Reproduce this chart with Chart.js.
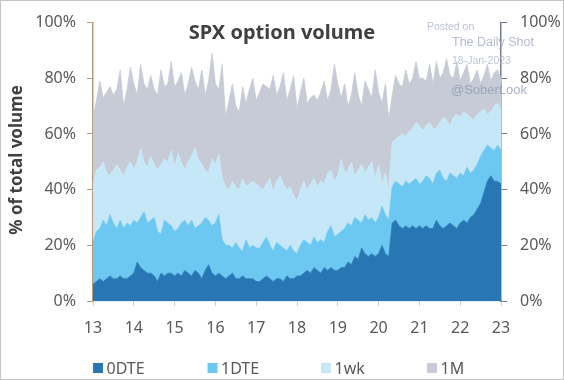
<!DOCTYPE html>
<html>
<head>
<meta charset="utf-8">
<script src="https://cdn.jsdelivr.net/npm/chart.js@4.4.1/dist/chart.umd.min.js"></script>
<style>
html,body{margin:0;padding:0;background:#fff;}
#wrap{width:564px;height:380px;position:relative;}
canvas{display:block;}
</style>
</head>
<body>
<div id="wrap"><canvas id="c" width="564" height="380"></canvas></div>
<script>
// ---- Data (cumulative shares, % of total volume) ----
const seriesNames = ['0DTE', '1DTE', '1wk', '1M'];

// monthly categories Jan 2013 .. Jan 2023
const months = [];
for (let y = 2013; y <= 2023; y++) {
  for (let m = 1; m <= 12; m++) {
    if (y === 2023 && m > 1) break;
    months.push(y + '-' + String(m).padStart(2, '0'));
  }
}

const yTickValues = [0, 20, 40, 60, 80, 100];

// 0DTE share
const dte0 = [
  6, 7, 8, 7, 8, 9, 8, 8, 9, 8, 8, 9,
  10, 14, 12, 11, 10, 10, 9, 7, 10, 9, 10, 10,
  9, 10, 9, 11, 10, 9, 11, 10, 8, 11, 13, 10,
  9, 10, 9, 8, 9, 10, 8, 8, 9, 8, 8, 8,
  7, 7, 8, 9, 8, 7, 8, 8, 7, 9, 8, 8,
  9, 9, 10, 11, 10, 12, 11, 10, 12, 11, 12, 11,
  11, 12, 12, 14, 13, 16, 15, 19, 17, 16, 17, 16,
  17, 20, 17, 16, 28, 29, 27, 26, 27, 26, 27, 26,
  27, 26, 27, 26, 26, 29, 27, 26, 27, 28, 27, 26,
  28, 29, 28, 30, 31, 33, 35, 39, 43, 45, 43, 43,
  42
];

// 0DTE + 1DTE (top of 1DTE band)
const upTo1DTE = [
  21, 25, 26, 29, 27, 31, 28, 26, 29, 26, 28, 27,
  29, 28, 30, 32, 28, 29, 30, 25, 24, 29, 28, 27,
  25, 26, 28, 29, 27, 29, 26, 27, 28, 30, 29, 27,
  28, 31, 22, 20, 20, 19, 21, 19, 18, 22, 19, 20,
  19, 19, 21, 23, 20, 18, 21, 20, 19, 18, 20, 18,
  17, 20, 22, 21, 20, 23, 21, 22, 21, 25, 27, 23,
  24, 25, 26, 28, 27, 30, 29, 28, 31, 29, 30, 28,
  30, 34, 31, 29, 41, 43, 42, 41, 43, 42, 43, 44,
  42, 43, 45, 44, 42, 46, 47, 44, 43, 46, 45, 44,
  46, 45, 48, 46, 47, 49, 52, 54, 56, 55, 54, 56,
  54
];

// up to 1wk (top of 1wk band)
const upTo1wk = [
  42, 47, 48, 50, 46, 45, 47, 49, 47, 45, 48, 50,
  47, 50, 55, 50, 48, 52, 49, 47, 49, 51, 50, 54,
  48, 53, 50, 47, 50, 52, 55, 51, 49, 47, 46, 51,
  49, 53, 44, 41, 40, 43, 41, 40, 44, 41, 42, 43,
  42, 41, 40, 42, 44, 39, 43, 45, 42, 40, 41, 38,
  36, 40, 43, 40, 42, 44, 41, 43, 42, 46, 47, 43,
  45, 51, 46, 47, 50, 45, 47, 49, 46, 48, 50, 44,
  49, 42, 46, 40, 57, 58, 59, 60, 59, 61, 62, 64,
  63, 61, 63, 64, 62, 62, 64, 66, 65, 63, 66, 67,
  66, 68, 67, 66, 65, 67, 68, 69, 67, 68, 70, 71,
  69
];

// up to 1M (top of 1M band)
const upTo1M = [
  66, 72, 79, 73, 75, 77, 74, 76, 83, 70, 76, 84,
  78, 74, 85, 78, 76, 81, 76, 74, 83, 77, 78, 86,
  77, 79, 82, 74, 78, 84, 79, 76, 83, 74, 79, 89,
  78, 76, 85, 66, 72, 78, 70, 68, 77, 71, 76, 80,
  72, 75, 78, 77, 76, 81, 74, 77, 82, 72, 76, 81,
  69, 75, 80, 71, 73, 74, 72, 75, 79, 72, 76, 85,
  78, 73, 78, 70, 74, 82, 74, 70, 79, 76, 73, 83,
  75, 71, 78, 65, 74, 81, 78, 77, 83, 78, 80, 86,
  80, 80, 79, 85, 78, 86, 80, 82, 87, 81, 80, 86,
  79, 82, 85, 78, 80, 83, 78, 81, 85, 79, 82, 83,
  80
];

const seriesColors = ['#2877b4', '#6cc8f0', '#c6e7f8', '#c6cbd5'];

const series = [dte0, upTo1DTE, upTo1wk, upTo1M];

const TXT = '#595959';
const FONT = "'Noto Sans', 'DejaVu Sans', sans-serif";

const decor = {
  id: 'decor',
  afterDraw(chart) {
    const ctx = chart.ctx;
    ctx.save();
    // outer border
    ctx.strokeStyle = '#c4c4c4';
    ctx.lineWidth = 1;
    ctx.strokeRect(0.5, 0.5, 563, 379);

    // title
    ctx.fillStyle = '#404040';
    ctx.font = "bold 20px " + FONT;
    ctx.textAlign = 'center';
    ctx.textBaseline = 'middle';
    ctx.fillText('SPX option volume', 282, 33);

    // y axis title
    ctx.save();
    ctx.translate(17, 160);
    ctx.rotate(-Math.PI / 2);
    ctx.font = "bold 17px " + FONT;
    ctx.fillStyle = '#404040';
    ctx.fillText('% of total volume', 0, 0);
    ctx.restore();

    // watermark
    ctx.textAlign = 'left';
    ctx.font = "10.5px 'Liberation Sans', Arial, sans-serif";
    ctx.fillStyle = 'rgba(170,180,200,0.8)';
    ctx.fillText('Posted on', 427, 27);
    ctx.font = "12.5px 'Liberation Sans', Arial, sans-serif";
    ctx.fillStyle = 'rgba(160,170,192,0.8)';
    ctx.fillText('The Daily Shot', 452, 43);
    ctx.font = "10.5px 'Liberation Sans', Arial, sans-serif";
    ctx.fillStyle = 'rgba(160,170,192,0.7)';
    ctx.fillText('18-Jan-2023', 452, 61);
    ctx.font = "13px 'Liberation Sans', Arial, sans-serif";
    ctx.fillStyle = 'rgba(140,152,180,0.75)';
    ctx.fillText('@SoberLook', 451, 90);

    // legend
    const lx = [93, 207.5, 321, 427];
    ctx.font = "16px " + FONT;
    ctx.textBaseline = 'middle';
    chart.data.datasets.forEach((ds, k) => {
      ctx.fillStyle = ds.backgroundColor;
      ctx.fillRect(lx[k], 363, 10, 10);
      ctx.fillStyle = TXT;
      ctx.fillText(ds.label, lx[k] + 13.5, 369);
    });
    ctx.restore();
  }
};

new Chart(document.getElementById('c'), {
  type: 'line',
  data: {
    labels: months,
    datasets: series.map((d, k) => ({
      label: seriesNames[k],
      data: d,
      backgroundColor: seriesColors[k],
      borderColor: seriesColors[k],
      borderWidth: 0.8,
      pointRadius: 0,
      tension: 0,
      fill: k === 0 ? 'origin' : '-1'
    }))
  },
  options: {
    responsive: false,
    animation: false,
    events: [],
    layout: { padding: { top: 18, left: 0, right: 0, bottom: 0 } },
    plugins: { legend: { display: false }, tooltip: { enabled: false }, title: { display: false } },
    scales: {
      x: {
        type: 'category',
        offset: false,
        grid: {
          drawOnChartArea: false,
          drawTicks: true,
          tickLength: 5,
          color: (c) => (months[c.index] && months[c.index].endsWith('-01')) ? '#cfcfcf' : 'rgba(0,0,0,0)'
        },
        border: { display: true, color: '#86bde2', width: 1.2 },
        ticks: {
          autoSkip: false,
          maxRotation: 0,
          minRotation: 0,
          padding: 13,
          color: TXT,
          font: { family: FONT, size: 16 },
          callback: (v, i) => months[i].endsWith('-01') ? months[i].slice(2, 4) : ''
        },
        afterFit: (s) => { s.height = 79; }
      },
      y: {
        position: 'left',
        min: 0, max: 100,
        afterBuildTicks: (s) => { s.ticks = yTickValues.map(v => ({ value: v })); },
        ticks: { padding: 11, color: TXT, font: { family: FONT, size: 16 }, callback: (v) => v + '%' },
        grid: { drawOnChartArea: false, tickLength: 6, color: '#b9997c' },
        border: { display: true, color: '#b9997c', width: 1.5 },
        afterFit: (s) => { s.width = 93; }
      },
      y2: {
        position: 'right',
        min: 0, max: 100,
        afterBuildTicks: (s) => { s.ticks = yTickValues.map(v => ({ value: v })); },
        ticks: { padding: 13, color: TXT, font: { family: FONT, size: 16 }, callback: (v) => v + '%' },
        grid: { drawOnChartArea: false, tickLength: 6, color: '#737c8a' },
        border: { display: true, color: '#737c8a', width: 1.5 },
        afterFit: (s) => { s.width = 63; }
      }
    }
  },
  plugins: [decor]
});
</script>
</body>
</html>
